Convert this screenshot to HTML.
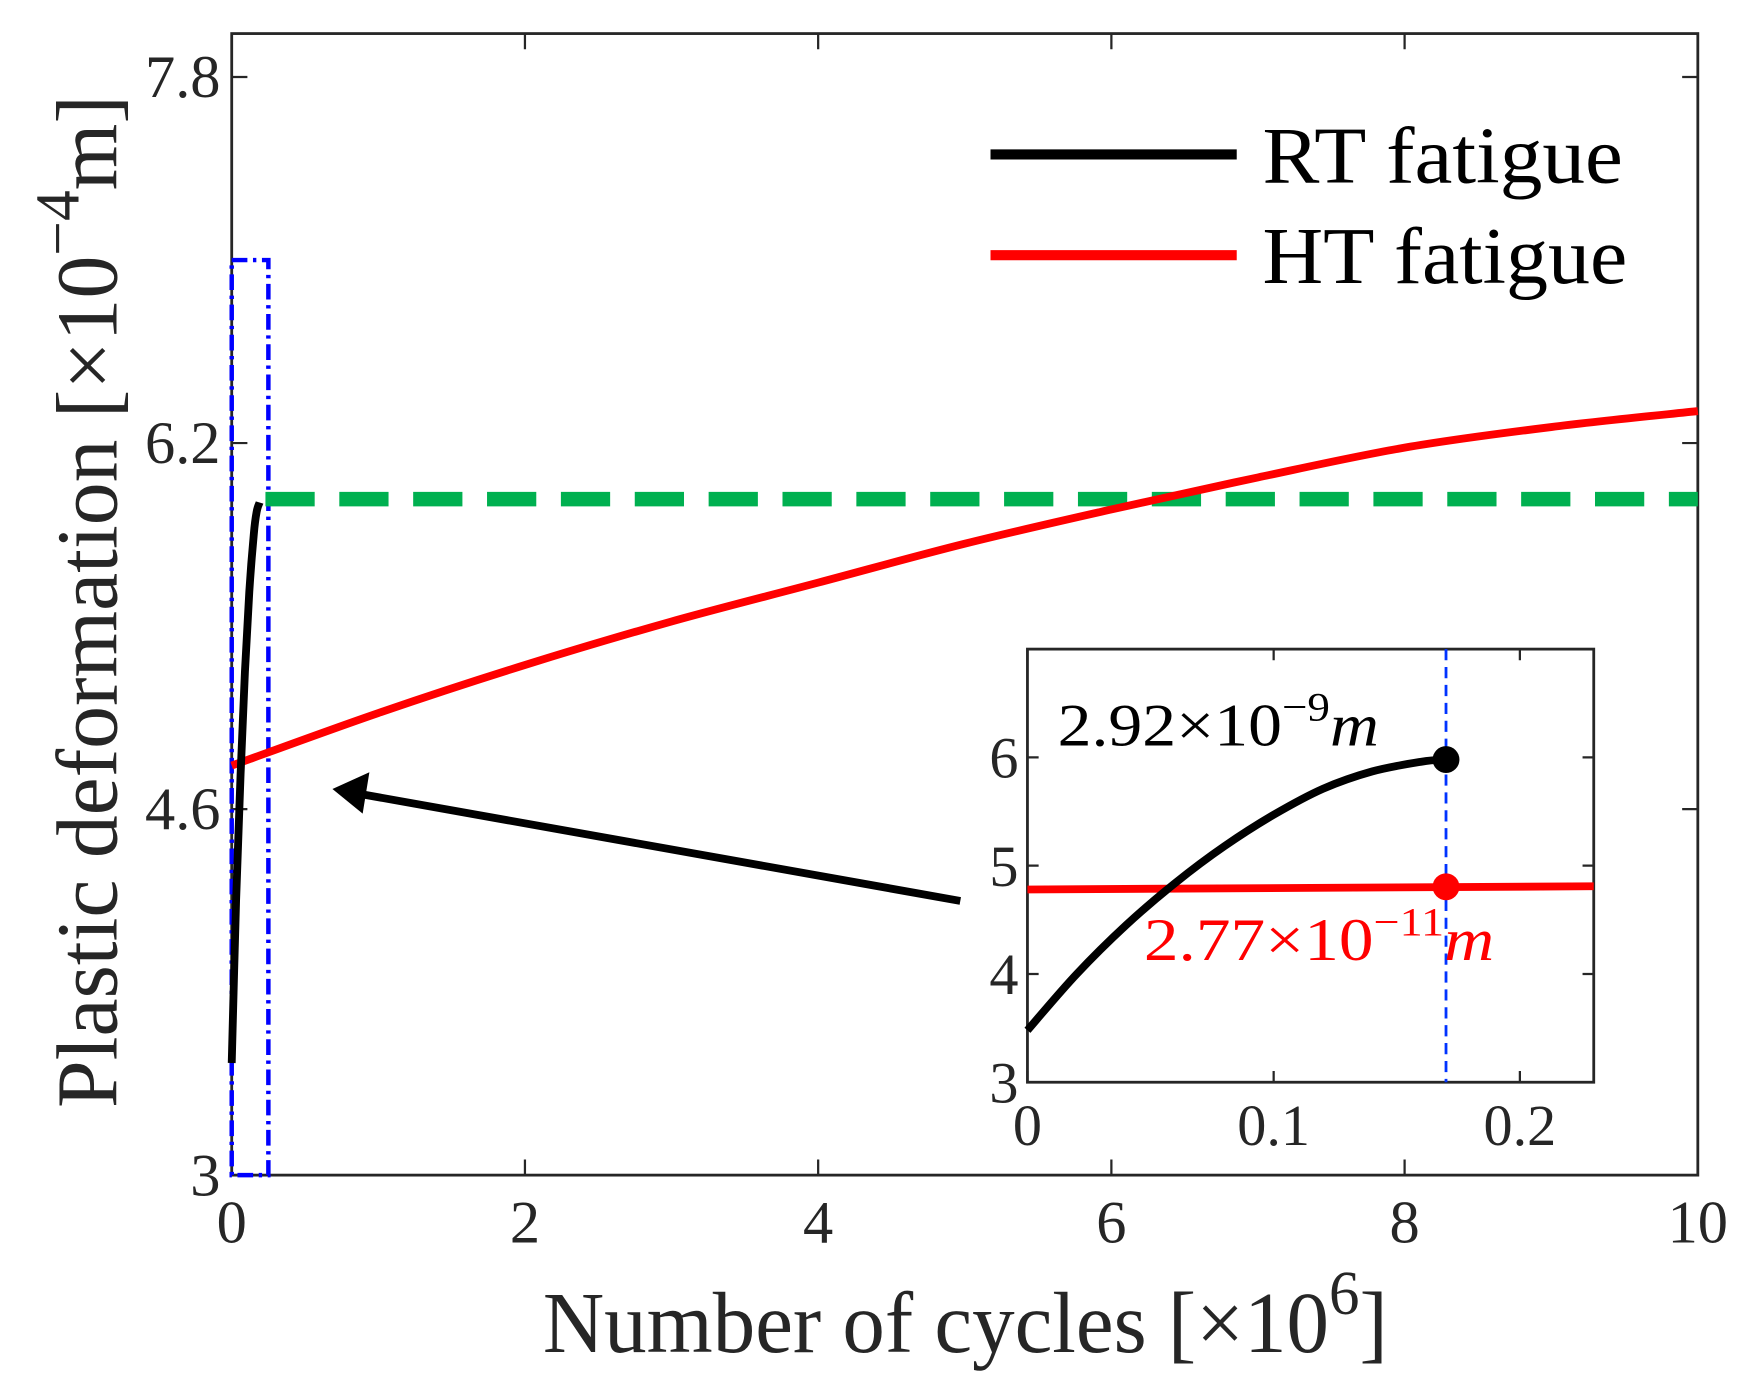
<!DOCTYPE html>
<html><head><meta charset="utf-8"><style>html,body{margin:0;padding:0;background:#fff}svg{display:block}text{font-family:"Liberation Serif",serif}</style></head>
<body>
<svg id="chart" width="1746" height="1390" viewBox="0 0 1560 1242" xmlns="http://www.w3.org/2000/svg">
<g id="main"></g>
</svg>
<script>
// main chart data
const xTicks = [0, 2, 4, 6, 8, 10];
const yTicks = [3, 4.6, 6.2, 7.8];
const yTickLabels = ['3', '4.6', '6.2', '7.8'];
const htX = [0, 1, 2, 3, 4, 5, 6, 7, 8, 9, 10];
const htY = [4.79, 5.02, 5.23, 5.42, 5.59, 5.76, 5.91, 6.05, 6.18, 6.27, 6.34];
const rtX = [0, 0.03, 0.06, 0.09, 0.12, 0.15, 0.17, 0.19];
const rtY = [3.49, 4.2, 4.75, 5.2, 5.55, 5.8, 5.9, 5.94];
const thresholdY = [5.955];
const thresholdX = [0.23, 10];
const zoomBoxX = [0, 0.25];
const zoomBoxY = [3, 7.0];
// inset data
const inXTicks = [0, 0.1, 0.2];
const inXTickLabels = ['0', '0.1', '0.2'];
const inYTicks = [3, 4, 5, 6];
const inRtX = [0, 0.02, 0.04, 0.06, 0.08, 0.1, 0.12, 0.14, 0.16, 0.17];
const inRtY = [3.48, 4.0, 4.45, 4.84, 5.18, 5.47, 5.71, 5.87, 5.96, 5.98];
const inHtX = [0, 0.23];
const inHtY = [4.78, 4.81];
const markX = [0.17];
const markRtY = [5.98];
const markHtY = [4.805];

const NS = 'http://www.w3.org/2000/svg';
const root = document.getElementById('main');
function mk(tag, attrs, parent, text) {
  const e = document.createElementNS(NS, tag);
  for (const k in attrs) e.setAttribute(k, attrs[k]);
  if (text !== undefined) e.textContent = text;
  (parent || root).appendChild(e);
  return e;
}
const L = 207, R = 1517, T = 30, B = 1050;
const xMin = 0, xMax = 10, yMin = 3, yMax = 7.99;
const X = v => L + (v - xMin) / (xMax - xMin) * (R - L);
const Y = v => B - (v - yMin) / (yMax - yMin) * (B - T);
const iL = 918, iR = 1424, iT = 580, iB = 967;
const iX = v => iL + v / 0.23 * (iR - iL);
const iY = v => iB - (v - 3) / 4 * (iB - iT);
function smooth(xs, ys, fx, fy) {
  const p = xs.map((x, i) => [fx(x), fy(ys[i])]);
  let d = `M${p[0][0].toFixed(1)},${p[0][1].toFixed(1)}`;
  for (let i = 0; i < p.length - 1; i++) {
    const p0 = p[i - 1] || p[i], p1 = p[i], p2 = p[i + 1], p3 = p[i + 2] || p2;
    const c1 = [p1[0] + (p2[0] - p0[0]) / 6, p1[1] + (p2[1] - p0[1]) / 6];
    const c2 = [p2[0] - (p3[0] - p1[0]) / 6, p2[1] - (p3[1] - p1[1]) / 6];
    d += `C${c1[0].toFixed(1)},${c1[1].toFixed(1)} ${c2[0].toFixed(1)},${c2[1].toFixed(1)} ${p2[0].toFixed(1)},${p2[1].toFixed(1)}`;
  }
  return d;
}

let e;
e = mk('rect', {x: L, y: T, width: R - L, height: B - T, fill: 'none', stroke: '#262626', 'stroke-width': 2.5});


xTicks.forEach(v => {
  e = mk('path', {d: `M${X(v)},${B}v-14M${X(v)},${T}v14`, stroke: '#262626', 'stroke-width': 2});
  
  
  e = mk('text', {x: X(v), y: B + 60, 'font-size': 54, 'text-anchor': 'middle', fill: '#262626'}, root, String(v));
  
  
});
yTicks.forEach((v, i) => {
  e = mk('path', {d: `M${L},${Y(v)}h14M${R},${Y(v)}h-14`, stroke: '#262626', 'stroke-width': 2});
  
  
  e = mk('text', {x: L - 10, y: Y(v) + 18, 'font-size': 54, 'text-anchor': 'end', fill: '#262626'}, root, yTickLabels[i]);
  
  
});
e = mk('rect', {x: X(zoomBoxX[0]), y: Y(zoomBoxY[1]), width: X(zoomBoxX[1]) - X(zoomBoxX[0]), height: Y(zoomBoxY[0]) - Y(zoomBoxY[1]), fill: 'none', stroke: '#0000ff', 'stroke-width': 4, 'stroke-dasharray': '14 5 3 5'});


e = mk('line', {x1: X(thresholdX[0]), x2: X(thresholdX[1]), y1: Y(thresholdY[0]), y2: Y(thresholdY[0]), stroke: '#00b050', 'stroke-width': 13, 'stroke-dasharray': '44 22'});


e = mk('path', {d: smooth(htX, htY, X, Y), fill: 'none', stroke: '#ff0000', 'stroke-width': 7});


e = mk('path', {d: smooth(rtX, rtY, X, Y), fill: 'none', stroke: '#000', 'stroke-width': 7});


e = mk('line', {x1: 858, y1: 805, x2: 325, y2: 710, stroke: '#000', 'stroke-width': 7});


e = mk('polygon', {points: '297,705 330,690 324,727', fill: '#000'});


e = mk('line', {x1: 885, x2: 1105, y1: 138, y2: 138, stroke: '#000', 'stroke-width': 9});


e = mk('text', {x: 1128, y: 163, 'font-size': 72, textLength: 322, lengthAdjust: 'spacingAndGlyphs'}, root, 'RT fatigue');


e = mk('line', {x1: 885, x2: 1105, y1: 228, y2: 228, stroke: '#ff0000', 'stroke-width': 9});


e = mk('text', {x: 1128, y: 253, 'font-size': 72, textLength: 326, lengthAdjust: 'spacingAndGlyphs'}, root, 'HT fatigue');


e = mk('text', {x: 485, y: 1208, 'font-size': 78, fill: '#262626', textLength: 755, lengthAdjust: 'spacingAndGlyphs'}, root);
e.innerHTML = 'Number of cycles [×10<tspan dy="-34" font-size="56">6</tspan><tspan dy="34">]</tspan>';


e = mk('text', {x: 0, y: 0, 'font-size': 78, fill: '#262626', transform: 'translate(104,990) rotate(-90)', textLength: 905, lengthAdjust: 'spacingAndGlyphs'}, root);
e.innerHTML = 'Plastic deformation [×10<tspan dy="-34" font-size="56">−4</tspan><tspan dy="34">m]</tspan>';



e = mk('rect', {x: iL, y: iT, width: iR - iL, height: iB - iT, fill: '#fff', stroke: '#262626', 'stroke-width': 2.5});


inXTicks.forEach((v, i) => {
  e = mk('path', {d: `M${iX(v)},${iB}v-10M${iX(v)},${iT}v10`, stroke: '#262626', 'stroke-width': 2});
  
  
  e = mk('text', {x: iX(v), y: iB + 56, 'font-size': 52, 'text-anchor': 'middle', fill: '#262626'}, root, inXTickLabels[i]);
  
  
});
inYTicks.forEach(v => {
  e = mk('path', {d: `M${iL},${iY(v)}h10M${iR},${iY(v)}h-10`, stroke: '#262626', 'stroke-width': 2});
  
  
  e = mk('text', {x: iL - 8, y: iY(v) + 18, 'font-size': 52, 'text-anchor': 'end', fill: '#262626'}, root, String(v));
  
  
});
e = mk('line', {x1: iX(markX[0]), x2: iX(markX[0]), y1: iT, y2: iB, stroke: '#0033ff', 'stroke-width': 2.5, 'stroke-dasharray': '10 6'});


e = mk('path', {d: smooth(inHtX, inHtY, iX, iY), fill: 'none', stroke: '#ff0000', 'stroke-width': 7});


e = mk('path', {d: smooth(inRtX, inRtY, iX, iY), fill: 'none', stroke: '#000', 'stroke-width': 7});


e = mk('circle', {cx: iX(markX[0]), cy: iY(markRtY[0]), r: 12, fill: '#000'});


e = mk('circle', {cx: iX(markX[0]), cy: iY(markHtY[0]), r: 12, fill: '#ff0000'});


e = mk('text', {x: 945, y: 666, 'font-size': 54, fill: '#000', textLength: 287, lengthAdjust: 'spacingAndGlyphs'}, root);
e.innerHTML = '2.92×10<tspan dy="-22" font-size="36">−9</tspan><tspan dy="22" font-style="italic">m</tspan>';


e = mk('text', {x: 1022, y: 858, 'font-size': 54, fill: '#ff0000', textLength: 313, lengthAdjust: 'spacingAndGlyphs'}, root);
e.innerHTML = '2.77×10<tspan dy="-22" font-size="36">−11</tspan><tspan dy="22" font-style="italic">m</tspan>';


</script>
</body></html>
